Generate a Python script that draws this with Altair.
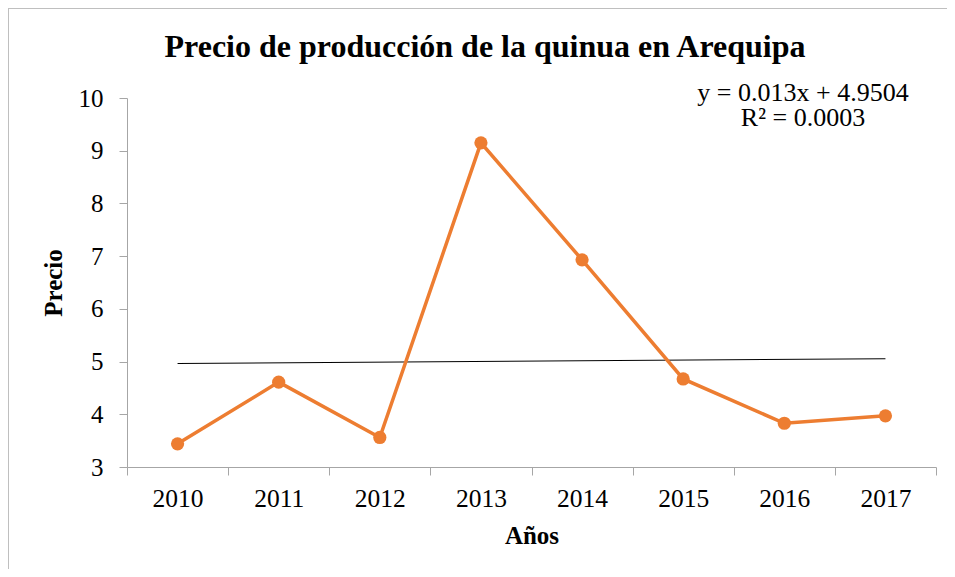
import altair as alt
import pandas as pd

# ---- data ----
years = ["2010", "2011", "2012", "2013", "2014", "2015", "2016", "2017"]
prices = [3.44, 4.61, 3.56, 9.15, 6.93, 4.67, 3.83, 3.97]

trend_years = ["2010", "2017"]
trend_values = [4.963, 5.054]

equation_line1 = "y = 0.013x + 4.9504"
equation_line2 = "R² = 0.0003"
title_text = "Precio de producción de la quinua en Arequipa"
y_ticks = [3, 4, 5, 6, 7, 8, 9, 10]

# ---- tables ----
df = pd.DataFrame({"year": years, "price": prices})
df_trend = pd.DataFrame({"year": trend_years, "price": trend_values})
df_one = pd.DataFrame({"k": [0]})

FONT = "Liberation Serif"
ORANGE = "#ED7D31"
GREY = "#A6A6A6"
W, H = 809, 369

x_enc = alt.X(
    "year:O",
    scale=alt.Scale(type="band", domain=years, paddingInner=0, paddingOuter=0),
    bandPosition=0.5,
    axis=alt.Axis(
        title="Años",
        labelAngle=0,
        tickBand="extent",
        tickSize=8,
        labelPadding=11,
        labelFontSize=25.5,
        labelFont=FONT,
        labelColor="black",
        titleFont=FONT,
        titleFontSize=25,
        titleFontWeight="bold",
        titleColor="black",
        titlePadding=12,
        domainColor=GREY,
        tickColor=GREY,
        grid=False,
    ),
)

y_enc = alt.Y(
    "price:Q",
    scale=alt.Scale(domain=[3, 10], nice=False, zero=False),
    axis=alt.Axis(
        title="Precio",
        values=y_ticks,
        tickSize=8,
        labelPadding=16,
        labelFontSize=25,
        labelFont=FONT,
        labelColor="black",
        titleFont=FONT,
        titleFontSize=25,
        titleFontWeight="bold",
        titleColor="black",
        titlePadding=12,
        domainColor=GREY,
        tickColor=GREY,
        grid=False,
    ),
)

base = alt.Chart(df)

line = base.mark_line(color=ORANGE, strokeWidth=3.5).encode(x=x_enc, y=y_enc)
points = base.mark_circle(color=ORANGE, size=175, opacity=1).encode(x=x_enc, y=y_enc)

trend = alt.Chart(df_trend).mark_line(color="black", strokeWidth=1.1).encode(
    x=x_enc, y=y_enc
)

eq1 = alt.Chart(df_one).mark_text(
    font=FONT, fontSize=26, color="black", align="center", baseline="alphabetic",
    text=equation_line1,
).encode(x=alt.value(676), y=alt.value(3))

eq2 = alt.Chart(df_one).mark_text(
    font=FONT, fontSize=26, color="black", align="center", baseline="alphabetic",
    text=equation_line2,
).encode(x=alt.value(676), y=alt.value(28))

title = alt.Chart(df_one).mark_text(
    font=FONT, fontSize=32, fontWeight="bold", color="black",
    align="center", baseline="alphabetic", text=title_text,
).encode(x=alt.value(358), y=alt.value(-41))

border_top = alt.Chart(df_one).mark_rule(color="#BFBFBF", strokeWidth=1).encode(
    x=alt.value(-119), x2=alt.value(W + 11), y=alt.value(-89.5)
)
border_left = alt.Chart(df_one).mark_rule(color="#BFBFBF", strokeWidth=1).encode(
    x=alt.value(-118.5), y=alt.value(-90), y2=alt.value(H + 102)
)

chart = (
    alt.layer(border_top, border_left, trend, line, points, eq1, eq2, title)
    .properties(
        width=W,
        height=H,
        autosize=alt.AutoSizeParams(type="none"),
        padding={"left": 119, "top": 90, "right": 11, "bottom": 102},
    )
    .configure_view(stroke=None)
)

chart.save("out.html", embed_options={"renderer": "svg", "actions": False})
